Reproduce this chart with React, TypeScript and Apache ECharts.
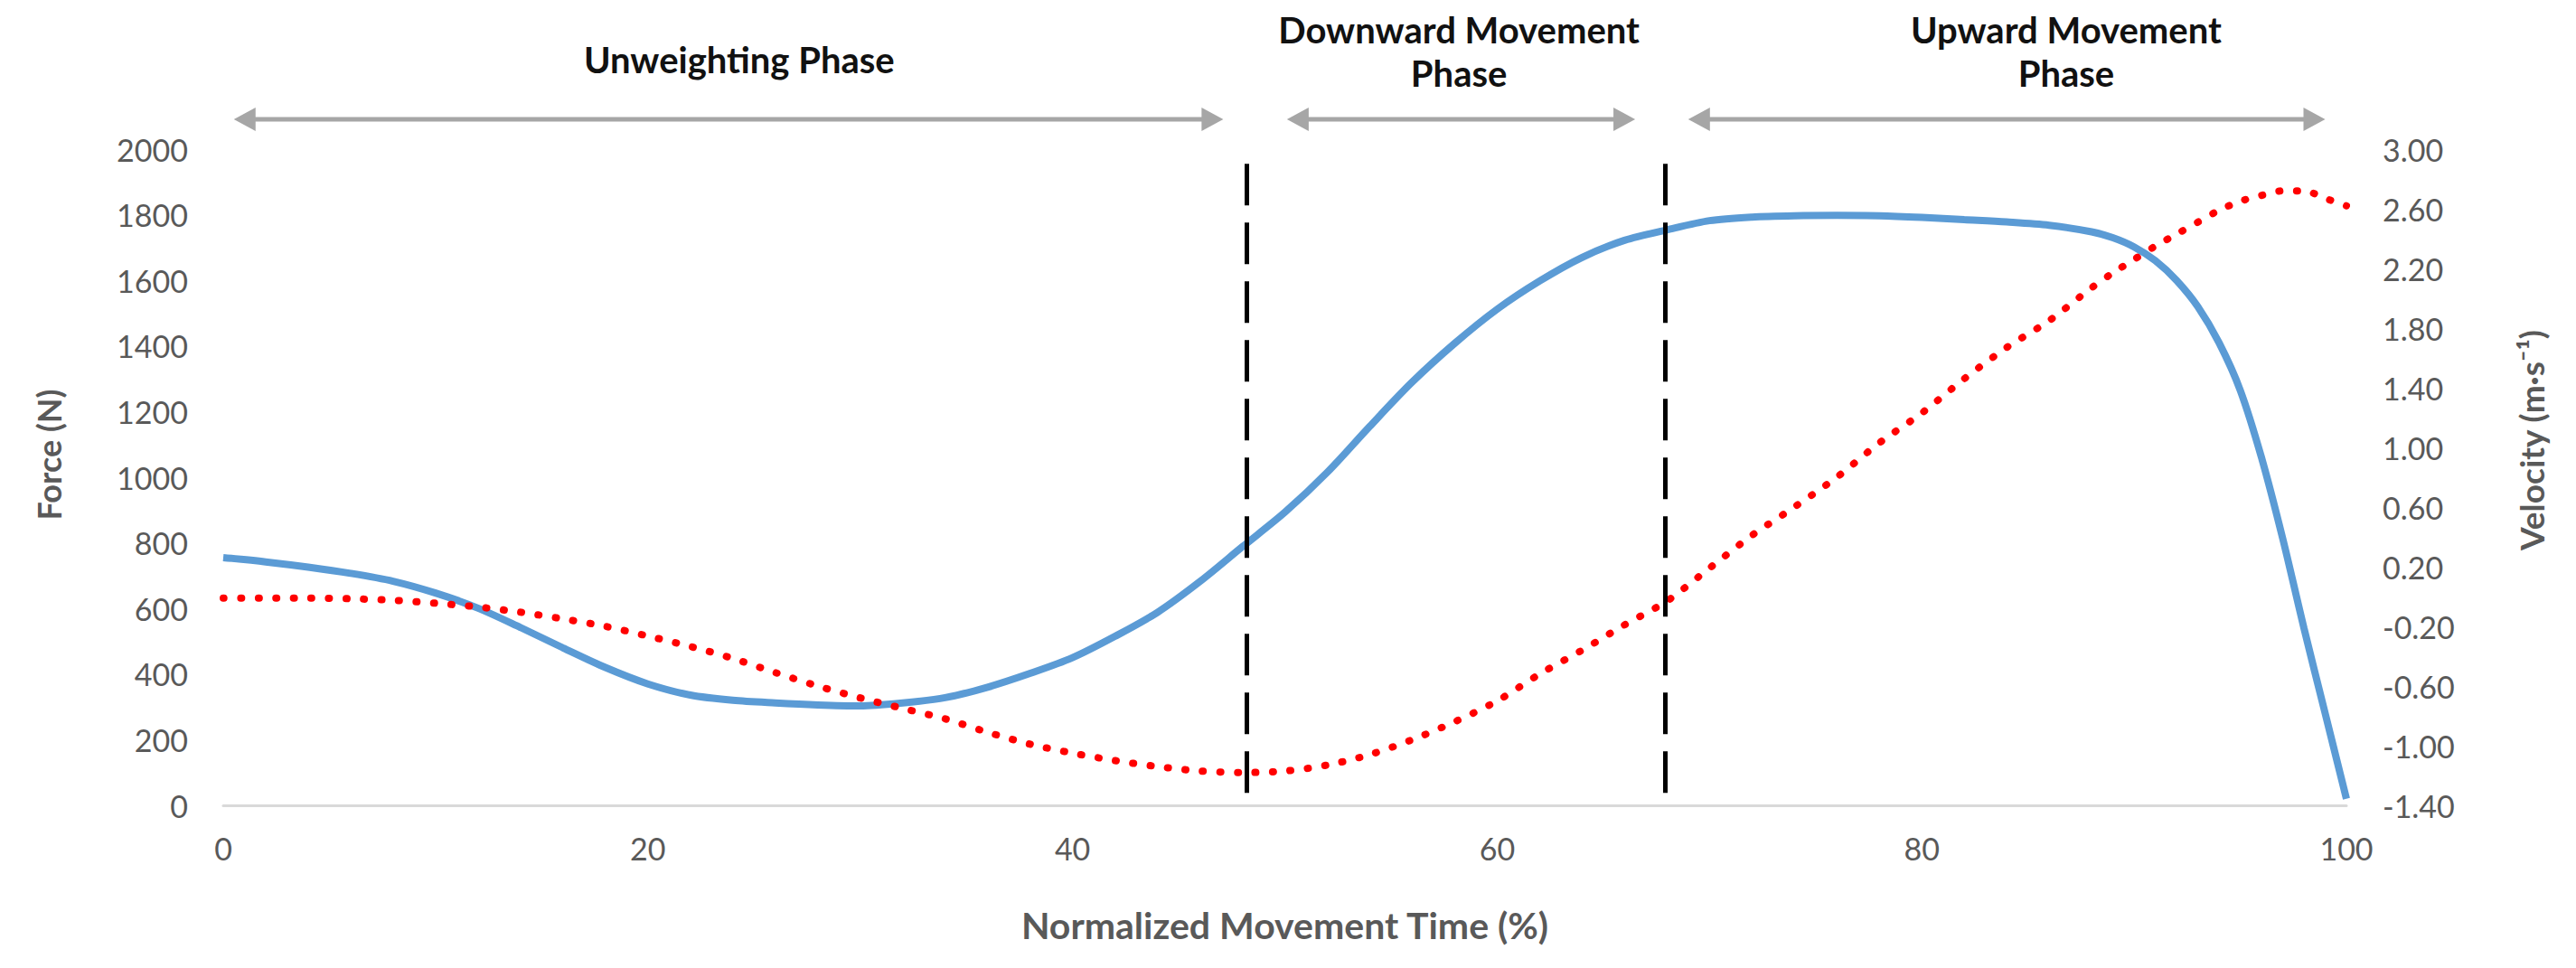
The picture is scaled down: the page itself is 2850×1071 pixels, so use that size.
import React, { useEffect, useRef } from "react";
import * as echarts from "echarts";

// Normalized movement time (%)
const timePct = [
  0, 2, 4, 6, 8, 10, 12, 14, 16, 18, 20, 22, 24, 26, 28, 30, 32, 34, 36, 38, 40,
  42, 44, 46, 48, 50, 52, 54, 56, 58, 60, 62, 64, 66, 68, 70, 72, 74, 76, 78, 80,
  82, 84, 86, 88, 89, 90, 91, 92, 93, 94, 95, 96, 97, 98, 99, 100,
];
// Force (N)
const force = [
  755, 742, 726, 707, 683, 647, 601, 542, 480, 420, 370, 336, 320, 312, 306, 303,
  312, 328, 360, 402, 450, 515, 588, 682, 788, 893, 1015, 1155, 1290, 1408, 1512,
  1598, 1670, 1722, 1754, 1782, 1793, 1797, 1798, 1797, 1792, 1785, 1778, 1768,
  1748, 1730, 1702, 1660, 1600, 1520, 1410, 1265, 1060, 813, 540, 280, 20,
];
// Velocity (m·s⁻¹)
const velocity = [
  -0.01, -0.01, -0.01, -0.015, -0.025, -0.045, -0.07, -0.105, -0.15, -0.2, -0.265,
  -0.335, -0.415, -0.51, -0.6, -0.68, -0.75, -0.82, -0.91, -0.99, -1.05, -1.1,
  -1.14, -1.17, -1.18, -1.17, -1.13, -1.06, -0.96, -0.84, -0.7, -0.52, -0.36,
  -0.19, -0.03, 0.19, 0.41, 0.6, 0.8, 1.03, 1.23, 1.46, 1.67, 1.85, 2.07, 2.17,
  2.26, 2.35, 2.43, 2.51, 2.59, 2.65, 2.69, 2.72, 2.72, 2.67, 2.62,
];

// Phase boundaries (% time) and the span of the dashed markers (N)
const phaseBoundaries = [48.2, 67.9];
const boundaryForceTop = 1955;
const boundaryForceBottom = 19;

// Phase annotations
const phaseNames = ["Unweighting Phase", "Downward Movement\nPhase", "Upward Movement\nPhase"];
const phaseLabelAt = [24.3, 58.2, 86.8];
const arrowFrom = [0.5, 50.1, 69.0];
const arrowTo = [47.1, 66.5, 99.0];

// Axis settings
const xTicks = { min: 0, max: 100, interval: 20 };
const forceTicks = { min: 0, max: 2000, interval: 200 };
const velocityTicks = { min: -1.4, max: 3.0, interval: 0.4 };

const FONT = "Lato, 'Open Sans', sans-serif";
const GREY = "#595959";

export default function App() {
  const ref = useRef<HTMLDivElement | null>(null);

  useEffect(() => {
    if (!ref.current) return;
    const chart = echarts.init(ref.current, undefined, { renderer: "svg" });

    const forceData = timePct.map((t, i) => [t, force[i]]);
    const velData = timePct.map((t, i) => [t, velocity[i]]);

    chart.setOption({
      animation: false,
      backgroundColor: "#ffffff",
      grid: { left: 247, right: 254, top: 165, bottom: 180 },
      xAxis: {
        type: "value",
        min: xTicks.min,
        max: xTicks.max,
        interval: xTicks.interval,
        name: "Normalized Movement Time (%)",
        nameLocation: "middle",
        nameGap: 112,
        nameTextStyle: { fontFamily: FONT, fontSize: 41, fontWeight: "bold", color: GREY },
        axisLine: { show: true, onZero: false, lineStyle: { color: "#D9D9D9", width: 3 } },
        axisTick: { show: false },
        splitLine: { show: false },
        axisLabel: { fontFamily: FONT, fontSize: 34, color: GREY, margin: 30 },
      },
      yAxis: [
        {
          type: "value",
          min: forceTicks.min,
          max: forceTicks.max,
          interval: forceTicks.interval,
          name: "Force (N)",
          nameLocation: "middle",
          nameGap: 175,
          nameTextStyle: {
            fontFamily: FONT,
            fontSize: 36,
            fontWeight: "bold",
            color: GREY,
            padding: [0, 0, 0, 50],
          },
          axisLine: { show: false },
          axisTick: { show: false },
          splitLine: { show: false },
          axisLabel: {
            fontFamily: FONT,
            fontSize: 34,
            color: GREY,
            margin: 39,
            formatter: (v: number) => String(Math.round(v)),
          },
        },
        {
          type: "value",
          position: "right",
          min: velocityTicks.min,
          max: velocityTicks.max,
          interval: velocityTicks.interval,
          name: "Velocity (m·s⁻¹)",
          nameLocation: "middle",
          nameGap: 186,
          nameTextStyle: {
            fontFamily: FONT,
            fontSize: 37,
            fontWeight: "bold",
            color: GREY,
            padding: [0, 0, 0, 82],
          },
          axisLine: { show: false },
          axisTick: { show: false },
          splitLine: { show: false },
          axisLabel: {
            fontFamily: FONT,
            fontSize: 34,
            color: GREY,
            margin: 40,
            formatter: (v: number) => v.toFixed(2),
          },
        },
      ],
      series: [
        {
          name: "Force",
          type: "line",
          yAxisIndex: 0,
          data: forceData,
          showSymbol: false,
          smooth: 0.3,
          lineStyle: { color: "#5B9BD5", width: 8 },
          markLine: {
            silent: true,
            symbol: ["none", "none"],
            label: { show: false },
            lineStyle: { color: "#000000", width: 5, type: [46, 19] },
            data: phaseBoundaries.map((b) => [
              { coord: [b, boundaryForceTop] },
              { coord: [b, boundaryForceBottom] },
            ]),
          },
        },
        {
          name: "Velocity",
          type: "line",
          yAxisIndex: 1,
          data: velData,
          showSymbol: false,
          smooth: 0.3,
          lineStyle: { color: "#FF0000", width: 8, type: [1, 18.4], cap: "round" },
        },
      ],
    });

    const px = (t: number) => chart.convertToPixel({ xAxisIndex: 0 }, t) as number;
    const arrowY = 132;
    const headLen = 24;
    const headHalf = 13;
    const arrowColor = "#A6A6A6";
    const graphics: any[] = [];
    phaseNames.forEach((name, i) => {
      const x1 = px(arrowFrom[i]);
      const x2 = px(arrowTo[i]);
      graphics.push({
        type: "line",
        shape: { x1: x1 + headLen - 2, y1: arrowY, x2: x2 - headLen + 2, y2: arrowY },
        style: { stroke: arrowColor, lineWidth: 5 },
      });
      graphics.push({
        type: "polygon",
        shape: { points: [[x1, arrowY], [x1 + headLen, arrowY - headHalf], [x1 + headLen, arrowY + headHalf]] },
        style: { fill: arrowColor },
      });
      graphics.push({
        type: "polygon",
        shape: { points: [[x2, arrowY], [x2 - headLen, arrowY - headHalf], [x2 - headLen, arrowY + headHalf]] },
        style: { fill: arrowColor },
      });
      const twoLines = name.indexOf("\n") >= 0;
      graphics.push({
        type: "text",
        x: px(phaseLabelAt[i]),
        y: twoLines ? 57 : 66,
        style: {
          text: name,
          fontFamily: FONT,
          fontSize: 40,
          fontWeight: "bold",
          fill: "#111111",
          align: "center",
          verticalAlign: "middle",
          lineHeight: 48,
        },
      });
    });
    chart.setOption({ graphic: graphics });

    return () => chart.dispose();
  }, []);

  return (
    <div
      ref={ref}
      style={{ position: "absolute", left: 0, top: 0, width: 2850, height: 1071, background: "#fff" }}
    />
  );
}
